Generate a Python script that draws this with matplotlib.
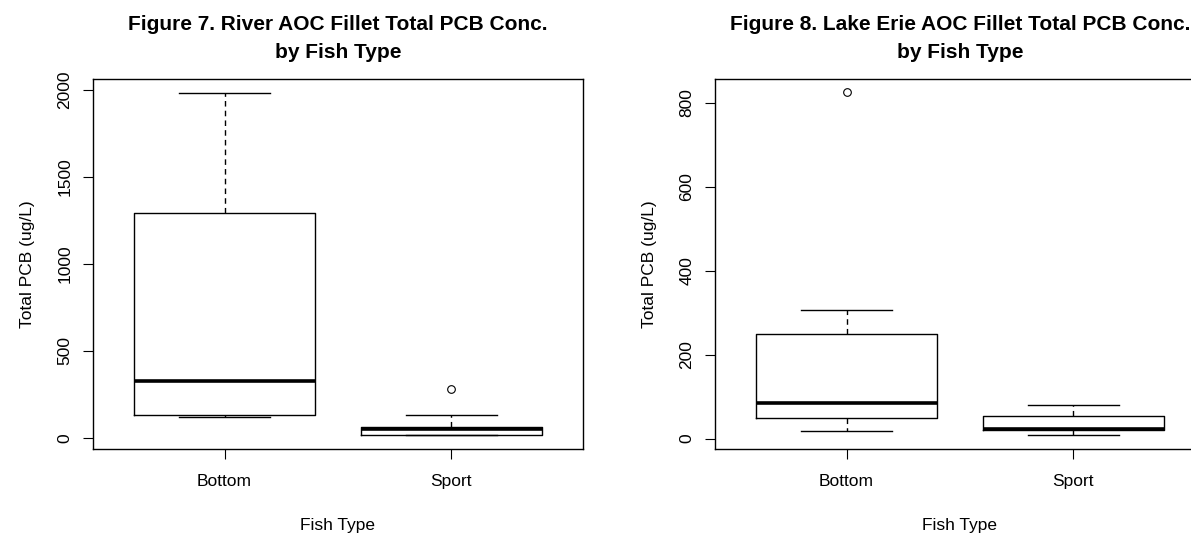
import matplotlib.pyplot as plt

plt.rcParams['font.family'] = ['Liberation Sans', 'DejaVu Sans']

# Box statistics (ug/L)
fish_types = ["Bottom", "Sport"]

river_q1 = [132, 16]
river_med = [328, 54]
river_q3 = [1291, 65]
river_lo = [119, 16]
river_hi = [1982, 130]
river_out = [[], [282]]

lake_q1 = [48, 20]
lake_med = [84, 22]
lake_q3 = [250, 53]
lake_lo = [18, 8]
lake_hi = [307, 80]
lake_out = [[825], []]

titles = ["Figure 7. River AOC Fillet Total PCB Conc.\nby Fish Type",
          "Figure 8. Lake Erie AOC Fillet Total PCB Conc.\nby Fish Type"]


def make_stats(q1, med, q3, lo, hi, out):
    stats = []
    for i in range(len(fish_types)):
        stats.append({"label": fish_types[i], "q1": q1[i], "med": med[i], "q3": q3[i],
                      "whislo": lo[i], "whishi": hi[i], "fliers": out[i]})
    return stats


def draw(ax, stats, ylim, yticks, title):
    ax.bxp(stats, positions=[1, 2], widths=0.8, capwidths=0.4,
           boxprops=dict(color="black", linewidth=1),
           medianprops=dict(color="black", linewidth=2.6, solid_capstyle="butt"),
           whiskerprops=dict(color="black", linewidth=1, linestyle=(0, (4, 3))),
           capprops=dict(color="black", linewidth=1),
           flierprops=dict(marker="o", markerfacecolor="none", markeredgecolor="black",
                           markersize=5.5, markeredgewidth=0.8))
    ax.set_xlim(0.42, 2.58)
    ax.set_ylim(*ylim)
    ax.set_yticks(yticks)
    ax.set_xticks([1, 2])
    ax.set_xticklabels(fish_types)
    ax.tick_params(axis="both", labelsize=12.5, length=7, width=0.8, color="black")
    ax.tick_params(axis="x", pad=11)
    ax.tick_params(axis="y", pad=8)
    for lab in ax.get_yticklabels():
        lab.set_rotation(90)
        lab.set_va("center")
    for s in ax.spines.values():
        s.set_linewidth(1)
    ax.set_xlabel("Fish Type", fontsize=12.5, labelpad=21)
    ax.set_ylabel("Total PCB (ug/L)", fontsize=12.5, labelpad=16)
    ax.set_title(title, fontsize=15, fontweight="bold", pad=15, linespacing=1.6)


fig = plt.figure(figsize=(11.91, 5.33), dpi=100)
ax1 = fig.add_axes([93 / 1191, 1 - 449 / 533, 490 / 1191, 370 / 533])
ax2 = fig.add_axes([715 / 1191, 1 - 449 / 533, 490 / 1191, 370 / 533])

draw(ax1, make_stats(river_q1, river_med, river_q3, river_lo, river_hi, river_out),
     (-63, 2061), [0, 500, 1000, 1500, 2000], titles[0])
draw(ax2, make_stats(lake_q1, lake_med, lake_q3, lake_lo, lake_hi, lake_out),
     (-25, 857), [0, 200, 400, 600, 800], titles[1])

fig.savefig("out.png", dpi=100)
